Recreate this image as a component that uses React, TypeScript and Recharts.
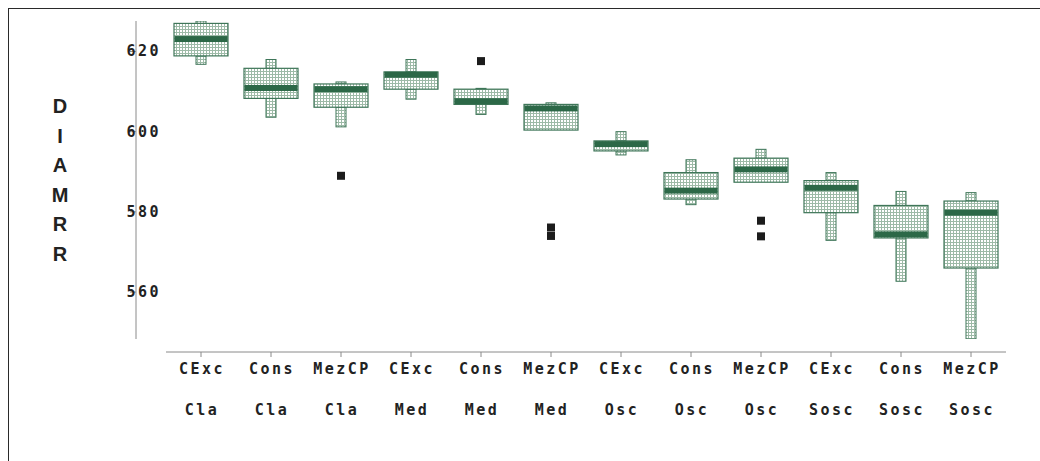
import React from 'react';
import { ComposedChart, Bar, Line, XAxis, YAxis } from 'recharts';

const treatments = ['CExc', 'Cons', 'MezCP', 'CExc', 'Cons', 'MezCP', 'CExc', 'Cons', 'MezCP', 'CExc', 'Cons', 'MezCP'];
const groups = ['Cla', 'Cla', 'Cla', 'Med', 'Med', 'Med', 'Osc', 'Osc', 'Osc', 'Sosc', 'Sosc', 'Sosc'];

const mins = [616.8, 603.6, 601.2, 608.1, 604.3, 600.4, 594.2, 581.8, 587.4, 572.9, 562.7, 548.3];
const q1s = [618.9, 608.3, 606.1, 610.6, 606.8, 600.4, 595.2, 583.2, 587.4, 579.8, 573.5, 566.0];
const medians = [623.1, 610.9, 610.6, 614.2, 607.6, 605.8, 596.9, 585.3, 590.6, 586.0, 574.4, 579.8];
const q3s = [627.0, 615.8, 611.9, 614.9, 610.6, 606.8, 597.7, 589.8, 593.4, 587.8, 581.6, 582.7];
const maxs = [627.6, 618.0, 612.4, 618.0, 610.8, 607.2, 600.0, 593.0, 595.6, 589.8, 585.1, 584.8];

const outliersA = [null, null, 589.0, null, 617.6, 576.1, null, null, 577.8, null, null, null];
const outliersB = [null, null, null, null, null, 574.0, null, null, 573.9, null, null, null];

const yTicks = [560, 580, 600, 620];
const axisTitle = ['D', 'I', 'A', 'M', 'R', 'R'];

const data = treatments.map((t, i) => ({
  name: `${t} ${groups[i]}`,
  min: mins[i],
  q1: q1s[i],
  median: medians[i],
  q3: q3s[i],
  max: maxs[i],
  outA: outliersA[i],
  outB: outliersB[i],
}));

const GREEN = '#3f7659';
const DARK = '#2c6847';
const AXIS = '#8a8a8a';
const MONO = '"DejaVu Sans Mono", monospace';
const labelStyle = { fontFamily: MONO, fontWeight: 700, fontSize: 15, letterSpacing: 2.5, fill: '#222' };

function BoxShape(props: any) {
  const { x, y, width, height } = props;
  const d = props.payload ?? props;
  const top = Math.min(y, y + height);
  const bottom = Math.max(y, y + height);
  const px = (v: number) => bottom - ((v - d.min) / (d.max - d.min)) * (bottom - top);
  const cx = x + width / 2;
  const ww = Math.round(width * 0.18);
  const yq3 = px(d.q3);
  const yq1 = px(d.q1);
  const ym = px(d.median);
  return (
    <g>
      {yq3 - top > 0.5 && (
        <rect x={cx - ww / 2} y={top} width={ww} height={yq3 - top} fill="url(#dots)" stroke={GREEN} strokeWidth={1} />
      )}
      {bottom - yq1 > 0.5 && (
        <rect x={cx - ww / 2} y={yq1} width={ww} height={bottom - yq1} fill="url(#dots)" stroke={GREEN} strokeWidth={1} />
      )}
      <rect x={x} y={yq3} width={width} height={yq1 - yq3} fill="url(#dots)" stroke={GREEN} strokeWidth={1.2} />
      <rect x={x + 0.5} y={ym - 3} width={width - 1} height={6} fill={DARK} />
    </g>
  );
}

function OutlierDot(props: any) {
  const { cx, cy, value, index, dataKey } = props;
  if (value == null || cy == null || isNaN(cy)) return <g key={`${dataKey}-${index}`} />;
  return <rect key={`${dataKey}-${index}`} x={cx - 4} y={cy - 4} width={8} height={8} fill="#1c1c1c" />;
}

function CategoryTick(props: any) {
  const { x, y, payload } = props;
  const i = payload.index;
  return (
    <g>
      <text x={x + 1} y={y + 30} textAnchor="middle" style={labelStyle}>
        {treatments[i]}
      </text>
      <text x={x + 1} y={y + 71} textAnchor="middle" style={labelStyle}>
        {groups[i]}
      </text>
    </g>
  );
}

function ValueTick(props: any) {
  const { x, y, payload } = props;
  return (
    <text x={x + 1} y={y + 5} textAnchor="end" style={labelStyle}>
      {payload.value}
    </text>
  );
}

export default function App() {
  return (
    <div style={{ position: 'relative', width: 1040, height: 461, background: '#fff', overflow: 'hidden' }}>
      <style>{`
        body { margin: 0; }
        .recharts-yAxis { transform: translateX(-30px); }
        .recharts-xAxis { transform: translateY(13px); }
      `}</style>
      <div
        style={{
          position: 'absolute',
          left: 8,
          top: 8,
          width: 1100,
          height: 500,
          borderLeft: '1.5px solid #2a2a2a',
          borderTop: '1.5px solid #2a2a2a',
        }}
      />
      <div
        style={{
          position: 'absolute',
          left: 50,
          top: 92,
          width: 20,
          fontFamily: '"Liberation Sans", Arial, sans-serif',
          fontWeight: 700,
          fontSize: 20,
          lineHeight: '29.5px',
          textAlign: 'center',
          color: '#222',
        }}
      >
        {axisTitle.map((c, i) => (
          <div key={i}>{c}</div>
        ))}
      </div>
      <div style={{ position: 'absolute', left: 0, top: 0 }}>
        <ComposedChart
          width={1040}
          height={461}
          data={data}
          margin={{ top: 21, right: 34, left: 106, bottom: 62 }}
        >
          <defs>
            <pattern id="dots" width={3} height={3} patternUnits="userSpaceOnUse">
              <rect width={3} height={3} fill="#ffffff" />
              <rect x={2} width={1} height={3} fill="#9dbaa7" />
              <rect y={2} width={3} height={1} fill="#9dbaa7" />
            </pattern>
          </defs>
          <XAxis
            dataKey="name"
            type="category"
            height={60}
            interval={0}
            tickSize={5}
            tickMargin={0}
            axisLine={{ stroke: AXIS }}
            tickLine={{ stroke: AXIS }}
            tick={<CategoryTick />}
          />
          <YAxis
            type="number"
            width={60}
            domain={[548.3, 627.6]}
            allowDataOverflow
            ticks={yTicks}
            tickSize={6}
            tickMargin={0}
            axisLine={{ stroke: AXIS }}
            tickLine={{ stroke: AXIS }}
            tick={<ValueTick />}
          />
          <Bar
            dataKey={(d: any) => [d.min, d.max]}
            barSize={54}
            shape={<BoxShape />}
            isAnimationActive={false}
          />
          <Line
            dataKey="outA"
            stroke="none"
            strokeWidth={0}
            dot={<OutlierDot />}
            activeDot={false}
            isAnimationActive={false}
          />
          <Line
            dataKey="outB"
            stroke="none"
            strokeWidth={0}
            dot={<OutlierDot />}
            activeDot={false}
            isAnimationActive={false}
          />
        </ComposedChart>
      </div>
    </div>
  );
}
